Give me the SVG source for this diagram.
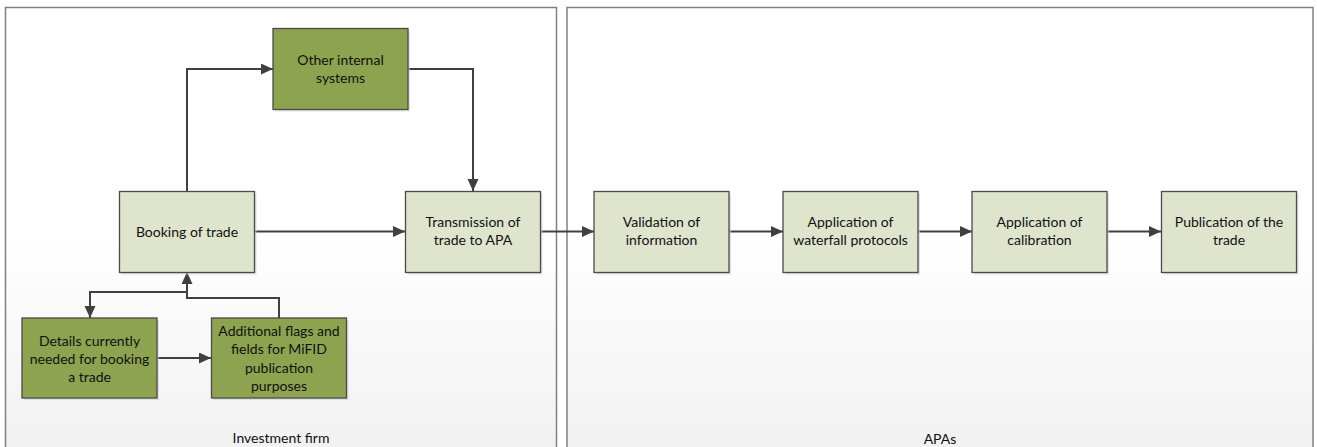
<svg xmlns="http://www.w3.org/2000/svg" width="1317" height="447" viewBox="0 0 1317 447">
<defs>
<linearGradient id="bg" x1="0" y1="0" x2="0" y2="1">
<stop offset="0" stop-color="#ffffff"/>
<stop offset="0.5" stop-color="#ffffff"/>
<stop offset="1" stop-color="#f0f0f0"/>
</linearGradient>
<marker id="arr" markerUnits="userSpaceOnUse" markerWidth="14" markerHeight="12" refX="12" refY="5.5" orient="auto">
<path d="M0,0 L12,5.5 L0,11 z" fill="#404040"/>
</marker>
<style>
.cont{fill:url(#bg);stroke:#808080;stroke-width:1.5}
.shadow{fill:#cfcfcf;opacity:0.6}
.light{fill:#dfe4cd;stroke:#4a4a4a;stroke-width:1.3}
.dark{fill:#8ea34f;stroke:#4a4a4a;stroke-width:1.3}
.t{font-family:Lato,"Liberation Sans",sans-serif;font-size:14px;fill:#111111;text-anchor:middle}
.c{fill:none;stroke:#404040;stroke-width:2;marker-end:url(#arr)}
</style>
</defs>
<rect width="1317" height="447" fill="#ffffff"/>
<g id="investment-firm">
<rect class="cont" x="5.5" y="7.5" width="551" height="460"/>
<text class="t" x="281" y="443">Investment firm</text>
</g>
<g id="apas">
<rect class="cont" x="567" y="7.5" width="746" height="460"/>
<text class="t" x="940" y="444">APAs</text>
</g>
<g id="connectors">
<path class="c" d="M187,191 V69 H273"/>
<path class="c" d="M408,69 H473 V191"/>
<path class="c" d="M254,231.5 H405"/>
<path class="c" d="M540,231.5 H594"/>
<path class="c" d="M729,231.5 H783"/>
<path class="c" d="M918,231.5 H972"/>
<path class="c" d="M1107,231.5 H1161"/>
<path class="c" d="M187,272 V292 H90 V318"/>
<path class="c" d="M279,318 V298 H187 V272"/>
<path class="c" d="M157,358 H211"/>
</g>
<g id="other-internal-systems">
<rect class="shadow" x="275" y="30.5" width="135" height="81"/>
<rect class="dark" x="273" y="28.5" width="135" height="81"/>
<text class="t" x="340.5" y="65">Other internal</text>
<text class="t" x="340.5" y="83">systems</text>
</g>
<g id="booking-of-trade">
<rect class="shadow" x="121.5" y="193.5" width="135" height="81"/>
<rect class="light" x="119.5" y="191.5" width="135" height="81"/>
<text class="t" x="187" y="236.5">Booking of trade</text>
</g>
<g id="transmission">
<rect class="shadow" x="407.5" y="193.5" width="135" height="81"/>
<rect class="light" x="405.5" y="191.5" width="135" height="81"/>
<text class="t" x="473" y="227">Transmission of</text>
<text class="t" x="473" y="245">trade to APA</text>
</g>
<g id="validation">
<rect class="shadow" x="596" y="193.5" width="135" height="81"/>
<rect class="light" x="594" y="191.5" width="135" height="81"/>
<text class="t" x="661.5" y="227">Validation of</text>
<text class="t" x="661.5" y="245">information</text>
</g>
<g id="waterfall">
<rect class="shadow" x="785" y="193.5" width="135" height="81"/>
<rect class="light" x="783" y="191.5" width="135" height="81"/>
<text class="t" x="850.5" y="227">Application of</text>
<text class="t" x="850.5" y="245">waterfall protocols</text>
</g>
<g id="calibration">
<rect class="shadow" x="974" y="193.5" width="135" height="81"/>
<rect class="light" x="972" y="191.5" width="135" height="81"/>
<text class="t" x="1039.5" y="227">Application of</text>
<text class="t" x="1039.5" y="245">calibration</text>
</g>
<g id="publication">
<rect class="shadow" x="1163.5" y="193.5" width="135" height="81"/>
<rect class="light" x="1161.5" y="191.5" width="135" height="81"/>
<text class="t" x="1229" y="227">Publication of the</text>
<text class="t" x="1229" y="245">trade</text>
</g>
<g id="details">
<rect class="shadow" x="24" y="320" width="135" height="80"/>
<rect class="dark" x="22" y="318" width="135" height="80"/>
<text class="t" x="89.5" y="345.5">Details currently</text>
<text class="t" x="89.5" y="363.5">needed for booking</text>
<text class="t" x="89.5" y="381.5">a trade</text>
</g>
<g id="additional">
<rect class="shadow" x="213.5" y="320" width="135" height="80"/>
<rect class="dark" x="211.5" y="318" width="135" height="80"/>
<text class="t" x="279" y="336">Additional flags and</text>
<text class="t" x="279" y="354">fields for MiFID</text>
<text class="t" x="279" y="372.5">publication</text>
<text class="t" x="279" y="390.5">purposes</text>
</g>
</svg>
